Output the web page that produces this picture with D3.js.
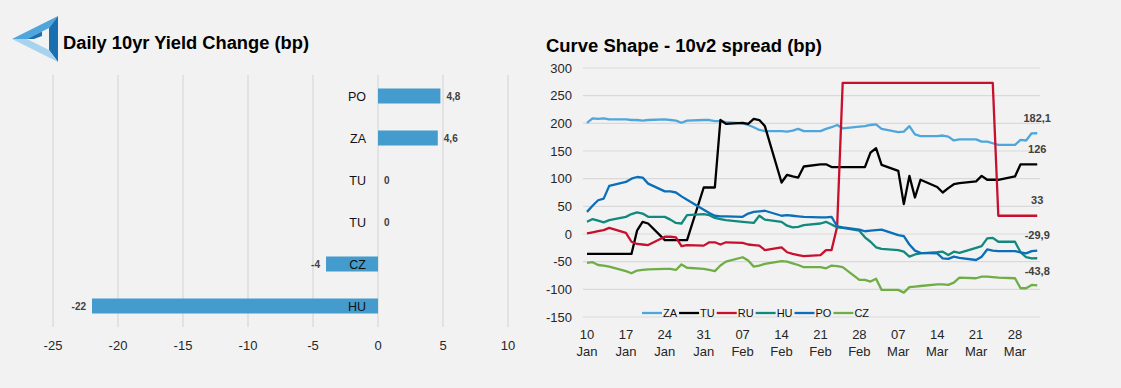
<!DOCTYPE html>
<html>
<head>
<meta charset="utf-8">
<script src="https://cdn.jsdelivr.net/npm/d3@7"></script>
<style>
  body { margin: 0; background: #f2f2f2; }
  text { font-family: "Liberation Sans", Arial, sans-serif; }
</style>
</head>
<body>
<div id="chart"></div>
<script>
// left panel: daily change
const barCats = ["PO", "ZA", "TU", "TU", "CZ", "HU"];
const barVals = [4.8, 4.6, 0, 0, -4, -22];
const barTicks = [-25, -20, -15, -10, -5, 0, 5, 10];

// right panel: 10v2 spread, business days 2022
const dates = [
  "2022-01-10","2022-01-11","2022-01-12","2022-01-13","2022-01-14","2022-01-17","2022-01-18","2022-01-19",
  "2022-01-20","2022-01-21","2022-01-24","2022-01-25","2022-01-26","2022-01-27","2022-01-28","2022-01-31",
  "2022-02-01","2022-02-02","2022-02-03","2022-02-04","2022-02-07","2022-02-08","2022-02-09","2022-02-10",
  "2022-02-11","2022-02-14","2022-02-15","2022-02-16","2022-02-17","2022-02-18","2022-02-21","2022-02-22",
  "2022-02-23","2022-02-24","2022-02-25","2022-02-28","2022-03-01","2022-03-02","2022-03-03","2022-03-04",
  "2022-03-07","2022-03-08","2022-03-09","2022-03-10","2022-03-11","2022-03-14","2022-03-15","2022-03-16",
  "2022-03-17","2022-03-18","2022-03-21","2022-03-22","2022-03-23","2022-03-24","2022-03-25","2022-03-28",
  "2022-03-29","2022-03-30","2022-03-31","2022-04-01"
];
const za = [201,209,208,209,207,207,206,206,205,206,207,206,205,201,205,206,
  206,204,204,202,200,197,193,188,186,186,185,187,190,186,186,190,193,197,191,194,
  195,197,198,190,184,185,195,180,177,177,178,176,169,171,171,167,167,164,161,161,170,169,182,
  182.1];
const tu = [-36,-36,-36,-36,-36,-36,-36,6,22,19,-11,-11,-11,-11,-11,84,
  84,84,206,199,201,199,208,206,195,93,107,104,102,122,126,126,121,121,121,121,
  121,147,155,125,114,54,105,66,98,85,75,83,90,92,95,105,98,98,98,104,126,126,126,
  126];
const ru = [1,3,5,7,11,2,-14,-18,-19,-20,-5,-5,-6,-22,-20,-21,
  -15,-15,-19,-15,-16,-19,-20,-21,-29,-24,-33,-36,-38,-40,-38,-29,-29,13,273,273,
  273,273,273,273,273,273,273,273,273,273,273,273,273,273,273,273,273,273,33,33,33,33,33,
  33];
const hu = [22,27,24,21,25,31,36,39,37,31,31,26,20,19,34,36,
  34,29,27,25,22,21,20,33,26,22,15,12,13,16,19,22,17,12,11,6,
  -6,-14,-24,-27,-29,-32,-41,-37,-35,-33,-32,-38,-32,-34,-25,-22,-8,-7,-14,-14,-33,-42,-44,
  -43.8];
const po = [40,51,61,64,87,94,100,103,102,91,77,77,75,68,62,44,
  38,33,32,32,31,37,40,41,42,33,34,33,32,31,30,30,31,14,12,8,
  5,6,7,8,-2,-4,-19,-30,-34,-35,-44,-45,-41,-43,-47,-41,-28,-30,-31,-31,-33,-35,-31,
  -29.9];
const cz = [-52,-51,-56,-57,-59,-67,-71,-66,-65,-64,-63,-63,-65,-55,-61,-63,
  -65,-67,-57,-50,-42,-48,-59,-57,-54,-49,-50,-53,-56,-60,-60,-62,-57,-58,-60,-83,
  -83,-86,-81,-101,-101,-106,-96,-95,-94,-91,-91,-92,-88,-79,-80,-77,-77,-78,-79,-80,-98,-98,-92,
  -93];
const seriesNames = ["ZA", "TU", "RU", "HU", "PO", "CZ"];
const seriesVals = [za, tu, ru, hu, po, cz];
const yTicks = [-150, -100, -50, 0, 50, 100, 150, 200, 250, 300];

const colors = { ZA: "#4ea6dc", TU: "#000000", RU: "#c8102e", HU: "#12897c", PO: "#0a6fb8", CZ: "#70ad47" };

const W = 1121, H = 388;
const svg = d3.select("#chart").append("svg")
  .attr("width", W).attr("height", H);

svg.append("rect").attr("width", W).attr("height", H).attr("fill", "#f2f2f2");

const loc = d3.formatLocale({ decimal: ",", thousands: ".", grouping: [3], currency: ["", ""], minus: "-" });
const fmt = loc.format(".1~f");

// ---- logo
const logo = svg.append("g").attr("transform", "translate(12,16)");
const A = [0, 23], B = [46, 0], C = [46, 46], a = [15, 23], b = [37, 12], c = [37, 34];
logo.append("polygon").attr("points", [A, B, b, a].join(" ")).attr("fill", "#4ea6dc");
logo.append("polygon").attr("points", [B, C, c, b].join(" ")).attr("fill", "#1a6fb0");
logo.append("polygon").attr("points", [C, A, a, c].join(" ")).attr("fill", "#a8d3ee");
logo.append("polygon").attr("points", [[15, 23], [30, 15.5], [30, 20], [22, 23]].join(" ")).attr("fill", "#1a6fb0");

svg.append("text").attr("x", 63).attr("y", 49)
  .attr("font-size", 18).attr("font-weight", "bold")
  .attr("textLength", 246).attr("lengthAdjust", "spacingAndGlyphs")
  .text("Daily 10yr Yield Change (bp)");

// ---- left bar chart
const xb = d3.scaleLinear().domain([-25, 10]).range([53, 508]);
const yb = d3.scaleBand().domain(d3.range(barCats.length)).range([75, 327])
  .paddingInner(0.643).paddingOuter(0.3215);

svg.append("g").selectAll("line").data(barTicks).join("line")
  .attr("x1", d => xb(d)).attr("x2", d => xb(d))
  .attr("y1", 75).attr("y2", 327)
  .attr("stroke", "#dcdcdc").attr("stroke-width", 1.5);

svg.append("g").selectAll("text").data(barTicks).join("text")
  .attr("x", d => xb(d)).attr("y", 350)
  .attr("text-anchor", "middle").attr("font-size", 13).attr("fill", "#262626")
  .text(d => fmt(d));

svg.append("g").selectAll("rect").data(barVals).join("rect")
  .attr("x", d => xb(Math.min(0, d)))
  .attr("width", d => Math.abs(xb(d) - xb(0)))
  .attr("y", (d, i) => yb(i))
  .attr("height", yb.bandwidth())
  .attr("fill", "#439ccd");

svg.append("g").selectAll("text").data(barCats).join("text")
  .attr("x", 366).attr("y", (d, i) => yb(i) + yb.bandwidth() / 2 + 4.5)
  .attr("text-anchor", "end").attr("font-size", 12.5).attr("fill", "#111")
  .text(d => d);

svg.append("g").selectAll("text").data(barVals).join("text")
  .attr("x", d => d < 0 ? xb(d) - 6 : xb(d) + 6)
  .attr("y", (d, i) => yb(i) + yb.bandwidth() / 2 + 3.5)
  .attr("text-anchor", d => d < 0 ? "end" : "start")
  .attr("font-size", 10).attr("font-weight", "bold").attr("fill", "#404040")
  .text(d => fmt(d));

// ---- right line chart
const parse = d3.timeParse("%Y-%m-%d");
const dts = dates.map(parse);
const x = d3.scaleTime().domain([parse("2022-01-10"), parse("2022-03-28")]).range([587, 1015]);
const y = d3.scaleLinear().domain([-150, 300]).range([317, 68]);

svg.append("text").attr("x", 546).attr("y", 52)
  .attr("font-size", 18).attr("font-weight", "bold")
  .attr("textLength", 276).attr("lengthAdjust", "spacingAndGlyphs")
  .text("Curve Shape - 10v2 spread (bp)");

svg.append("g").selectAll("line").data(yTicks).join("line")
  .attr("x1", 583).attr("x2", 1040)
  .attr("y1", d => y(d)).attr("y2", d => y(d))
  .attr("stroke", "#d9d9d9").attr("stroke-width", 1.2);

svg.append("g").selectAll("text").data(yTicks).join("text")
  .attr("x", 572).attr("y", d => y(d) + 4.5)
  .attr("text-anchor", "end").attr("font-size", 13).attr("fill", "#262626")
  .text(d => fmt(d));

const xTicks = d3.timeMonday.range(parse("2022-01-10"), parse("2022-03-29"));
const xt = svg.append("g").selectAll("text").data(xTicks).join("text")
  .attr("text-anchor", "middle").attr("font-size", 13).attr("fill", "#262626");
xt.append("tspan").attr("x", d => x(d)).attr("y", 339).text(d => d3.timeFormat("%d")(d));
xt.append("tspan").attr("x", d => x(d)).attr("y", 356).text(d => d3.timeFormat("%b")(d));

const line = d3.line().x((d, i) => x(dts[i])).y(d => y(d));
svg.append("g").selectAll("path").data(seriesVals).join("path")
  .attr("d", d => line(d))
  .attr("fill", "none")
  .attr("stroke", (d, i) => colors[seriesNames[i]])
  .attr("stroke-width", 2.3)
  .attr("stroke-linejoin", "round");

// end labels
const endLab = [["ZA", -11], ["TU", -11], ["RU", -12], ["PO", -12], ["HU", 17]];
const last = dts[dts.length - 1];
svg.append("g").selectAll("text").data(endLab).join("text")
  .attr("x", x(last))
  .attr("y", d => y(seriesVals[seriesNames.indexOf(d[0])].at(-1)) + d[1])
  .attr("text-anchor", "middle").attr("font-size", 11).attr("font-weight", "bold").attr("fill", "#404040")
  .text(d => fmt(seriesVals[seriesNames.indexOf(d[0])].at(-1)));

// legend
const leg = svg.append("g");
let lx = 642;
seriesNames.forEach(n => {
  leg.append("line").attr("x1", lx).attr("x2", lx + 20).attr("y1", 313).attr("y2", 313)
    .attr("stroke", colors[n]).attr("stroke-width", 2.3);
  const t = leg.append("text").attr("x", lx + 21).attr("y", 317)
    .attr("font-size", 11).attr("fill", "#111").text(n);
  lx += 21 + t.node().getComputedTextLength() + 2;
});
</script>
</body>
</html>
